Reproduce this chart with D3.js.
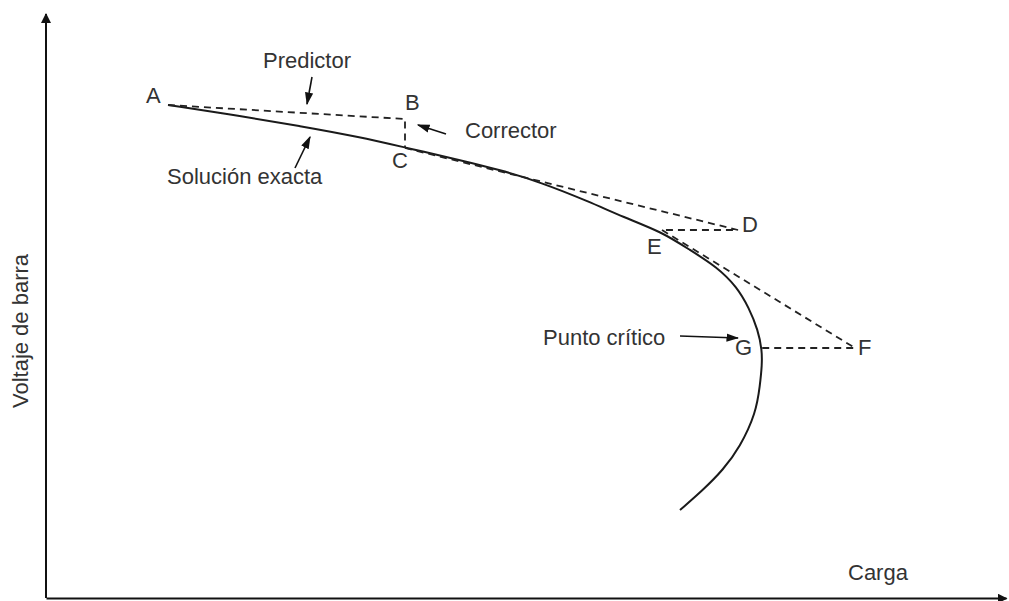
<!doctype html>
<html>
  <head>
    <script src="https://cdnjs.cloudflare.com/ajax/libs/d3/7.8.5/d3.min.js"></script>
    <style>
      body { margin: 0; background: #fff; }
      text { font-family: "Liberation Sans", Arial, sans-serif; fill: #333; }
    </style>
  </head>
  <body>
    <svg style="height: 601px; width: 1009px;"></svg>
    <script>
        // exact solution curve (carga, voltaje)
        var curveCarga = [12.2, 19.4, 25.4, 31.4, 36.1, 41.4, 45.4, 49.4, 54.4, 57.7, 61.6, 64.4, 67.1, 69.1, 70.3, 71.2, 71.6, 71.6, 71.4, 71.0, 69.4, 67.7, 65.7, 63.4];
        var curveVolt  = [49.3, 48.2, 47.2, 46.1, 45.0, 43.8, 42.8, 41.6, 39.6, 38.1, 36.6, 34.8, 33.1, 31.1, 29.0, 26.8, 24.8, 23.3, 21.3, 18.5, 15.1, 12.8, 10.8, 8.8];

        // labelled points
        var pointNames = ["A", "B", "C", "D", "E", "F", "G"];
        var pointCarga = [12.2, 35.9, 35.9, 69.2, 61.6, 80.9, 71.6];
        var pointVolt  = [49.3, 47.9, 45.0, 36.8, 36.8, 25.0, 25.0];

        // predictor / corrector steps
        var steps = [["A", "B", "C"], ["C", "D", "E"], ["E", "F", "G"]];

        var svg = d3.select("svg");
        var xScale = d3.scaleLinear().domain([0, 96]).range([46, 1006]);
        var yScale = d3.scaleLinear().domain([0, 58.5]).range([598, 13]);

        var defs = svg.append("defs");
        defs.append("marker").attr("id", "axisArrow")
            .attr("viewBox", "0 0 10 10").attr("refX", 9).attr("refY", 5)
            .attr("markerWidth", 5).attr("markerHeight", 5).attr("orient", "auto")
            .attr("markerUnits", "strokeWidth")
            .append("path").attr("d", "M0,0L10,5L0,10Z").attr("fill", "#111");
        defs.append("marker").attr("id", "noteArrow")
            .attr("viewBox", "0 0 10 10").attr("refX", 9).attr("refY", 5)
            .attr("markerWidth", 8).attr("markerHeight", 8).attr("orient", "auto")
            .attr("markerUnits", "strokeWidth")
            .append("path").attr("d", "M0,1.8L10,5L0,8.2Z").attr("fill", "#111");

        // axes with no ticks
        var xAxis = d3.axisBottom(xScale).tickValues([]).tickSizeOuter(0);
        var yAxis = d3.axisLeft(yScale).tickValues([]).tickSizeOuter(0);
        var gx = svg.append("g").attr("transform", "translate(0,598)").call(xAxis);
        var gy = svg.append("g").attr("transform", "translate(46,0)").call(yAxis);
        gx.select(".domain").attr("stroke", "#111").attr("stroke-width", 2).attr("marker-end", "url(#axisArrow)");
        gy.select(".domain").attr("stroke", "#111").attr("stroke-width", 2)
            .attr("d", "M0," + yScale(0) + "V" + yScale(58.4))
            .attr("marker-end", "url(#axisArrow)");

        svg.append("text").attr("x", 848).attr("y", 580).attr("font-size", 22).text("Carga");
        svg.append("text").attr("transform", "translate(28,331) rotate(-90)")
            .attr("text-anchor", "middle").attr("font-size", 22).text("Voltaje de barra");

        // exact solution
        var curveData = curveCarga.map((c, i) => [c, curveVolt[i]]);
        var line = d3.line().x(d => xScale(d[0])).y(d => yScale(d[1])).curve(d3.curveBasis);
        svg.append("path").attr("d", line(curveData))
            .style("fill", "none").style("stroke", "#1a1a1a").style("stroke-width", "2px");

        // dashed predictor-corrector steps
        var pts = {};
        pointNames.forEach((n, i) => pts[n] = [pointCarga[i], pointVolt[i]]);
        var stepLine = d3.line().x(d => xScale(d[0])).y(d => yScale(d[1]));
        steps.forEach(s => {
            svg.append("path").attr("d", stepLine(s.map(n => pts[n])))
                .style("fill", "none").style("stroke", "#222").style("stroke-width", "1.8px")
                .style("stroke-dasharray", "7,5");
        });

        // point letters: [dx, dy] offsets from the point
        var letterOffset = { A: [-22, -2], B: [0, -9], C: [-13, 20], D: [4, 2], E: [-15, 24], F: [3, 7], G: [-27, 7] };
        pointNames.forEach((n, i) => {
            svg.append("text")
                .attr("x", xScale(pointCarga[i]) + letterOffset[n][0])
                .attr("y", yScale(pointVolt[i]) + letterOffset[n][1])
                .attr("font-size", 22).text(n);
        });

        // annotations
        var notes = [
            { text: "Predictor", x: 263, y: 68, from: [312, 77], to: [307, 104] },
            { text: "Solución exacta", x: 167, y: 184, from: [295, 168], to: [310, 137] },
            { text: "Corrector", x: 465, y: 138, from: [446, 134], to: [418, 125] },
            { text: "Punto crítico", x: 543, y: 345, from: [680, 336], to: [738, 338] }
        ];
        notes.forEach(n => {
            svg.append("text").attr("x", n.x).attr("y", n.y).attr("font-size", 22).text(n.text);
            svg.append("line")
                .attr("x1", n.from[0]).attr("y1", n.from[1]).attr("x2", n.to[0]).attr("y2", n.to[1])
                .attr("stroke", "#111").attr("stroke-width", 1.6).attr("marker-end", "url(#noteArrow)");
        });
    </script>
  </body>
</html>
